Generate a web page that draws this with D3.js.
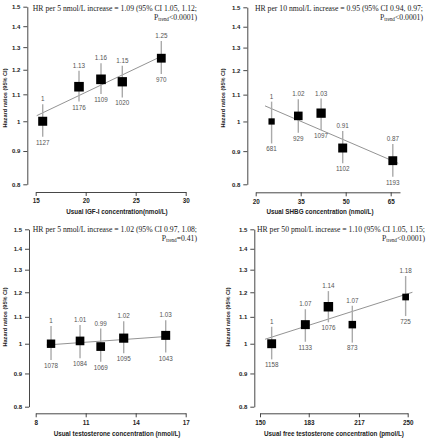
<!DOCTYPE html>
<html><head><meta charset="utf-8">
<script src="https://cdn.jsdelivr.net/npm/d3@7"></script>
<style>
html,body{margin:0;padding:0;background:#fff;}
svg{display:block;}
</style></head>
<body>
<script>
// ---------- DATA ----------
const yTickValues = [0.8, 0.9, 1, 1.1, 1.2, 1.3, 1.4, 1.5];
const yTickLabels = ["0.8", "0.9", "1", "1.1", "1.2", "1.3", "1.4", "1.5"];
const yTitle = "Hazard ratios (95% CI)";

// Panel 1: IGF-I
const igfX   = [15.7, 19.33, 21.53, 23.66, 27.56];
const igfHR  = [1, 1.13, 1.16, 1.15, 1.25];
const igfLo  = [0.947, 1.072, 1.101, 1.088, 1.182];
const igfHi  = [1.062, 1.196, 1.228, 1.217, 1.328];
const igfN   = [1127, 1176, 1109, 1020, 970];
const igfTrendX  = [15.1, 27.36];
const igfTrendHR = [1.02, 1.254];
const igfTicks = [15, 20, 25, 30];
const igfTitle = "Usual IGF-I concentration(nmol/L)";
const igfNote = ["HR per 5 nmol/L increase = 1.09 (95% CI 1.05, 1.12;", "<0.0001)"];

// Panel 2: SHBG
const shbgX  = [25.3, 34.2, 41.8, 49.0, 65.7];
const shbgHR = [1, 1.02, 1.03, 0.91, 0.87];
const shbgLo = [0.925, 0.961, 0.970, 0.862, 0.822];
const shbgHi = [1.073, 1.082, 1.085, 0.967, 0.923];
const shbgN  = [681, 929, 1097, 1102, 1193];
const shbgTrendX  = [23.1, 67.5];
const shbgTrendHR = [1.057, 0.862];
const shbgTicks = [20, 35, 50, 65];
const shbgTitle = "Usual SHBG concentration (nmol/L)";
const shbgNote = ["HR per 10 nmol/L increase = 0.95 (95% CI 0.94, 0.97;", "<0.0001)"];

// Panel 3: testosterone
const tX  = [8.92, 10.66, 11.9, 13.28, 15.8];
const tHR = [1, 1.01, 0.99, 1.02, 1.03];
const tLo = [0.944, 0.950, 0.938, 0.967, 0.969];
const tHi = [1.065, 1.069, 1.055, 1.083, 1.087];
const tN  = [1078, 1084, 1069, 1095, 1043];
const tTrendX  = [8.66, 16.06];
const tTrendHR = [0.9955, 1.027];
const tTicks = [8, 11, 14, 17];
const tTitle = "Usual testosterone concentration (nmol/L)";
const tNote = ["HR per 5 nmol/L increase = 1.02 (95% CI 0.97, 1.08;", "=0.41)"];

// Panel 4: free testosterone
const ftX  = [157.9, 180.7, 196.3, 212.5, 248.6];
const ftHR = [1, 1.07, 1.14, 1.07, 1.18];
const ftLo = [0.946, 1.007, 1.079, 1.004, 1.103];
const ftHi = [1.062, 1.130, 1.205, 1.144, 1.271];
const ftN  = [1158, 1133, 1076, 873, 725];
const ftTrendX  = [153.4, 253.2];
const ftTrendHR = [1.016, 1.20];
const ftTicks = [150, 183, 217, 250];
const ftTitle = "Usual free testosterone concentration (pmol/L)";
const ftNote = ["HR per 50 pmol/L increase = 1.10 (95% CI 1.05, 1.15;", "<0.0001)"];

// ---------- LAYOUT ----------
const panels = [
  {x:igfX, hr:igfHR, lo:igfLo, hi:igfHi, n:igfN, tx:igfTrendX, thr:igfTrendHR, ticks:igfTicks, title:igfTitle, note:igfNote,
   xd:[15,30], xr:[35.7,185.7], yAx:27.3, yr:[184.3,6.7], xAxY:192, titleX:117, titleY:214, ylabX:6.5, ylabY:98, noteR:197, noteY:[11,19.5]},
  {x:shbgX, hr:shbgHR, lo:shbgLo, hi:shbgHi, n:shbgN, tx:shbgTrendX, thr:shbgTrendHR, ticks:shbgTicks, title:shbgTitle, note:shbgNote,
   xd:[20,68.1], xr:[255.7,400], yAx:247.3, yr:[184.3,7.3], xAxY:192.3, titleX:320, titleY:214, ylabX:224.5, ylabY:98, noteR:423, noteY:[11,19.5]},
  {x:tX, hr:tHR, lo:tLo, hi:tHi, n:tN, tx:tTrendX, thr:tTrendHR, ticks:tTicks, title:tTitle, note:tNote,
   xd:[8,17], xr:[35.7,185.7], yAx:29, yr:[406.7,229.3], xAxY:413.3, titleX:117, titleY:435.5, ylabX:6.5, ylabY:317, noteR:197, noteY:[232,240.5]},
  {x:ftX, hr:ftHR, lo:ftLo, hi:ftHi, n:ftN, tx:ftTrendX, thr:ftTrendHR, ticks:ftTicks, title:ftTitle, note:ftNote,
   xd:[150,250], xr:[260,407.7], yAx:254.3, yr:[406.7,229.3], xAxY:413.3, titleX:334, titleY:435.5, ylabX:229.5, ylabY:317, noteR:425, noteY:[232,240.5]}
];

const svg = d3.select("body").append("svg").attr("width",431).attr("height",440);
const sans = "'Liberation Sans', Arial, sans-serif";
const serif = "'Liberation Serif', 'Times New Roman', serif";
const fmtHR = v => v === 1 ? "1" : v.toFixed(2);

panels.forEach(p => {
  const g = svg.append("g");
  const xs = d3.scaleLinear().domain(p.xd).range(p.xr);
  const ys = d3.scaleLog().domain([0.8,1.5]).range(p.yr);

  // Y axis
  const yAxis = d3.axisLeft(ys).tickValues(yTickValues)
      .tickFormat((d,i) => yTickLabels[i]).tickSize(4).tickPadding(3).tickSizeOuter(0);
  const ga = g.append("g").attr("transform",`translate(${p.yAx},0)`).call(yAxis);
  ga.selectAll("text").attr("font-family",sans).attr("font-weight","bold").attr("font-size",6).attr("fill","#222");
  ga.selectAll("path,line").attr("stroke","#333").attr("stroke-width",0.9);

  // X axis
  const xAxis = d3.axisBottom(xs).tickValues(p.ticks).tickFormat(d3.format("d"))
      .tickSize(4).tickPadding(3).tickSizeOuter(0);
  const gx = g.append("g").attr("transform",`translate(0,${p.xAxY})`).call(xAxis);
  gx.selectAll("text").attr("font-family",sans).attr("font-weight","bold").attr("font-size",6.3).attr("fill","#222");
  gx.selectAll("path,line").attr("stroke","#333").attr("stroke-width",0.9);

  // Titles
  g.append("text").attr("x",p.titleX).attr("y",p.titleY).attr("text-anchor","middle")
    .attr("font-family",sans).attr("font-weight","bold").attr("font-size",6.3).attr("fill","#222").text(p.title);
  g.append("text").attr("transform",`translate(${p.ylabX},${p.ylabY}) rotate(-90)`).attr("text-anchor","middle")
    .attr("font-family",sans).attr("font-weight","bold").attr("font-size",5.6).attr("fill","#222").text(yTitle);

  // Note
  g.append("text").attr("x",p.noteR).attr("y",p.noteY[0]).attr("text-anchor","end")
    .attr("font-family",serif).attr("font-size",7.7).attr("fill","#222").text(p.note[0]);
  const t2 = g.append("text").attr("x",p.noteR).attr("y",p.noteY[1]).attr("text-anchor","end")
    .attr("font-family",serif).attr("font-size",7.7).attr("fill","#222");
  t2.append("tspan").text("P");
  t2.append("tspan").attr("font-size",5.2).attr("dy",1.8).text("trend");
  t2.append("tspan").attr("dy",-1.8).text(p.note[1]);

  // Trend line
  g.append("line")
    .attr("x1",xs(p.tx[0])).attr("y1",ys(p.thr[0]))
    .attr("x2",xs(p.tx[1])).attr("y2",ys(p.thr[1]))
    .attr("stroke","#777").attr("stroke-width",0.8);

  const idx = d3.range(p.x.length);
  // CIs
  g.selectAll("line.ci").data(idx).join("line").attr("class","ci")
    .attr("x1",i=>xs(p.x[i])).attr("x2",i=>xs(p.x[i]))
    .attr("y1",i=>ys(p.lo[i])).attr("y2",i=>ys(p.hi[i]))
    .attr("stroke","#aaa").attr("stroke-width",1.4);
  // Markers, size from precision of the CI
  const side = i => {
    const w = Math.log(p.hi[i]) - Math.log(p.lo[i]);
    return Math.max(5.5, Math.min(10.5, 9.3 * Math.pow(0.112 / w, 1.4)));
  };
  g.selectAll("rect.m").data(idx).join("rect").attr("class","m")
    .attr("x",i=>xs(p.x[i]) - side(i)/2).attr("y",i=>ys(p.hr[i]) - side(i)/2)
    .attr("width",side).attr("height",side).attr("fill","#000");
  // Labels
  g.selectAll("text.hr").data(idx).join("text").attr("class","hr")
    .attr("x",i=>xs(p.x[i])).attr("y",i=>ys(p.hi[i]) - 2.8).attr("text-anchor","middle")
    .attr("font-family",sans).attr("font-size",6.3).attr("fill","#555").text(i=>fmtHR(p.hr[i]));
  g.selectAll("text.n").data(idx).join("text").attr("class","n")
    .attr("x",i=>xs(p.x[i])).attr("y",i=>ys(p.lo[i]) + 7.9).attr("text-anchor","middle")
    .attr("font-family",sans).attr("font-size",6.3).attr("fill","#555").text(i=>p.n[i]);
});
</script>
</body></html>
